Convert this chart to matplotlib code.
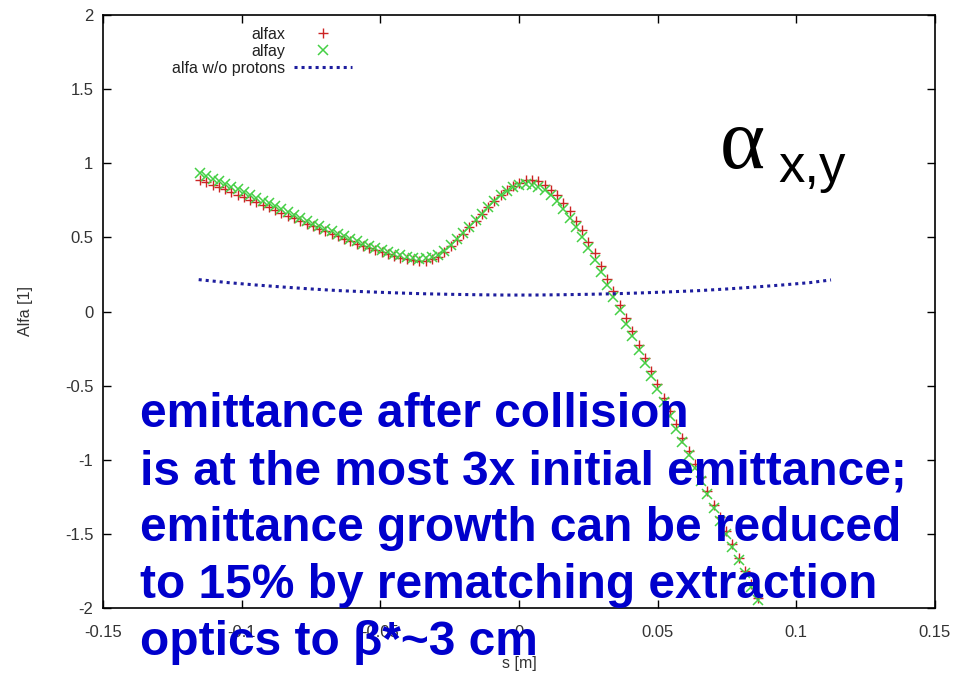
import numpy as np
import matplotlib
matplotlib.use("Agg")
import matplotlib.pyplot as plt

plt.rcParams['font.family'] = ['Liberation Sans', 'DejaVu Sans']

# ---- data ----
s = np.linspace(-0.115, 0.086, 90)
alfax = [0.890, 0.873, 0.856, 0.839, 0.823, 0.806, 0.789, 0.772, 0.754, 0.737,
         0.719, 0.702, 0.684, 0.665, 0.647, 0.629, 0.611, 0.593, 0.576, 0.559,
         0.541, 0.525, 0.508, 0.491, 0.474, 0.458, 0.443, 0.428, 0.415, 0.402,
         0.389, 0.376, 0.364, 0.353, 0.345, 0.341, 0.343, 0.352, 0.370, 0.400,
         0.440, 0.480, 0.522, 0.567, 0.612, 0.658, 0.703, 0.745, 0.785, 0.818,
         0.848, 0.870, 0.884, 0.888, 0.878, 0.855, 0.822, 0.785, 0.732, 0.676,
         0.612, 0.548, 0.472, 0.392, 0.308, 0.222, 0.138, 0.047, -0.044, -0.132,
         -0.223, -0.311, -0.402, -0.490, -0.582, -0.673, -0.761, -0.852, -0.940, -1.031,
         -1.119, -1.210, -1.302, -1.389, -1.481, -1.569, -1.660, -1.748, -1.839, -1.931]
alfay = [0.934, 0.915, 0.897, 0.878, 0.861, 0.842, 0.824, 0.805, 0.786, 0.767,
         0.748, 0.729, 0.710, 0.689, 0.670, 0.650, 0.631, 0.611, 0.593, 0.574,
         0.556, 0.540, 0.523, 0.506, 0.489, 0.473, 0.458, 0.443, 0.430, 0.417,
         0.404, 0.391, 0.379, 0.368, 0.360, 0.356, 0.358, 0.367, 0.380, 0.410,
         0.448, 0.487, 0.528, 0.572, 0.616, 0.661, 0.705, 0.745, 0.783, 0.812,
         0.838, 0.855, 0.859, 0.855, 0.843, 0.818, 0.783, 0.744, 0.689, 0.632,
         0.567, 0.504, 0.429, 0.350, 0.267, 0.182, 0.099, 0.009, -0.081, -0.168,
         -0.258, -0.345, -0.435, -0.522, -0.613, -0.703, -0.790, -0.879, -0.966, -1.056,
         -1.143, -1.233, -1.324, -1.410, -1.501, -1.588, -1.678, -1.765, -1.855, -1.946]
s_free = [-0.1155, -0.105, -0.095, -0.085, -0.075, -0.065, -0.055, -0.045, -0.035, -0.025,
          -0.015, -0.005, 0.005, 0.015, 0.025, 0.035, 0.045, 0.055, 0.065, 0.075,
          0.085, 0.095, 0.105, 0.1125]
alfa_free = [0.215, 0.195, 0.179, 0.165, 0.152, 0.141, 0.133, 0.126, 0.120, 0.116,
             0.113, 0.111, 0.111, 0.113, 0.116, 0.120, 0.126, 0.133, 0.141, 0.152,
             0.165, 0.179, 0.195, 0.213]

xticks = [-0.15, -0.1, -0.05, 0, 0.05, 0.1, 0.15]
xticklabels = ["-0.15", "-0.1", "-0.05", "0", "0.05", "0.1", "0.15"]
yticks = [-2, -1.5, -1, -0.5, 0, 0.5, 1, 1.5, 2]
yticklabels = ["-2", "-1.5", "-1", "-0.5", "0", "0.5", "1", "1.5", "2"]

note_lines = ["emittance after collision",
              "is at the most 3x initial emittance;",
              "emittance growth can be reduced",
              "to 15% by rematching extraction",
              "optics to \u03b2*~3 cm"]

# ---- figure ----
W, H = 954, 673
fig = plt.figure(figsize=(W / 100, H / 100), dpi=100)
ax = fig.add_axes([103 / W, 1 - 608 / H, 832 / W, 593 / H])

ax.plot(s, alfax, linestyle='none', marker='+', markersize=7, markeredgewidth=1.0,
        color='#cc2424', label='alfax')
ax.plot(s, alfay, linestyle='none', marker='x', markersize=6.5, markeredgewidth=1.1,
        color='#45d045', label='alfay')
ax.plot(s_free, alfa_free, linestyle=(0, (1, 1.3)), linewidth=2.2, dash_capstyle='butt',
        color='#1e1e9e', label='alfa w/o protons')

ax.set_xlim(-0.15, 0.15)
ax.set_ylim(-2, 2)
ax.set_xticks(xticks)
ax.set_xticklabels(xticklabels)
ax.set_yticks(yticks)
ax.set_yticklabels(yticklabels)
ax.tick_params(direction='in', length=6, width=1, top=True, right=True,
               labelsize=12, labelcolor='#333333')
ax.tick_params(axis='x', pad=12)
ax.tick_params(axis='y', pad=7)
for sp in ax.spines.values():
    sp.set_linewidth(1.2)

ax.set_xlabel('s [m]', fontsize=11.5, color='#333333', labelpad=12)
ax.set_ylabel('Alfa [1]', fontsize=11.5, color='#333333', labelpad=23)

leg = ax.legend(loc='upper right', bbox_to_anchor=(352 / W, 1 - 27 / H),
                bbox_transform=fig.transFigure, frameon=False, markerfirst=False,
                fontsize=11.5, handlelength=3.6, handletextpad=0.6, labelspacing=0.12,
                borderpad=0, borderaxespad=0)
for t in leg.get_texts():
    t.set_color('#222222')

# alpha_{x,y} annotation
fig.text(720 / W, 1 - 168 / H, '\u03b1', fontsize=62, family='Liberation Serif',
         ha='left', va='baseline', color='black')
fig.text(778 / W, 1 - 182 / H, 'x,y', fontsize=38, ha='left', va='baseline', color='black')

# big blue note
baselines = [427, 484, 541, 598, 655]
for line, yb in zip(note_lines, baselines):
    fig.text(140 / W, 1 - yb / H, line, fontsize=34.5, fontweight='bold',
             color='#0000cc', ha='left', va='baseline')

fig.savefig('out.png', dpi=100)
